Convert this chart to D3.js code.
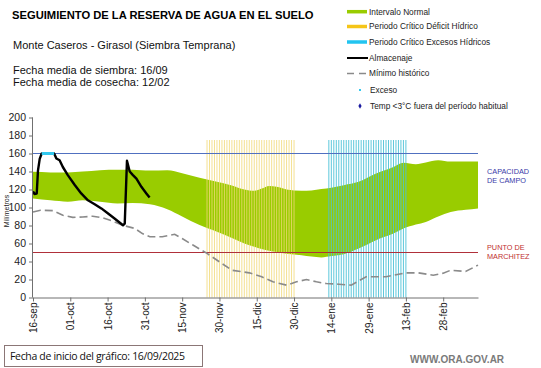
<!DOCTYPE html>
<html>
<head>
<meta charset="utf-8">
<script src="https://cdn.jsdelivr.net/npm/d3@7/dist/d3.min.js"></script>
<style>
  html, body { margin: 0; padding: 0; background: #fff; }
  svg { display: block; font-family: "Liberation Sans", Arial, sans-serif; }
</style>
</head>
<body>
<svg id="chart" width="541" height="368"></svg>
<script>
// ---------- DATA ----------
const tickDays = [0, 15, 30, 45, 60, 75, 90, 105, 120, 135, 150, 165];
const tickLabels = ["16-sep","01-oct","16-oct","31-oct","15-nov","30-nov","15-dic","30-dic","14-ene","29-ene","13-feb","28-feb"];
const yTicks = [0, 20, 40, 60, 80, 100, 120, 140, 160, 180, 200];

// Intervalo normal (upper / lower) by day since 16-sep
const bandDays  = [0, 7, 14, 20, 27, 34, 40, 47, 54, 60, 67, 74, 80, 85, 89, 92, 95, 98, 102, 108, 112, 116, 120, 125, 131, 138, 145, 149, 154, 158, 163, 168, 174, 179];
const bandUpper = [139.6, 139, 139, 140, 141.5, 142, 142, 141, 141.4, 138, 133, 128.5, 124.5, 120, 118.5, 121, 124, 123, 120, 118.5, 119, 120.5, 122, 124.8, 128.5, 137.8, 145, 149.6, 148, 150, 152.5, 151, 151, 151];
const bandLower = [110, 108, 106.5, 108, 106.5, 104.5, 105, 103.5, 98, 90, 80.5, 73, 66, 60, 56.5, 54, 52, 50.5, 48.5, 47, 45.5, 44.5, 46, 48, 54.4, 63.7, 71, 76.6, 81, 84, 90, 95, 97.5, 99];

// Mínimo histórico
const minDays = [0, 3, 8, 12, 16, 20, 24, 28, 32, 36, 41, 44, 47, 52, 57, 60, 64.5, 70, 75, 80, 87, 92, 96.5, 102, 106, 110, 114, 118, 123, 128, 134, 142, 150, 155, 161, 165, 168, 174, 179];
const minVals = [95, 97, 96.5, 91.4, 89, 89.5, 90.3, 88.5, 85, 80.3, 76.7, 71, 67.5, 67.5, 70.3, 65.5, 58, 49, 39.6, 30.3, 27.4, 23, 17.4, 13.7, 17.4, 20, 17.4, 15.5, 14.8, 13.7, 23, 23, 27.4, 27.4, 24.8, 27, 30.3, 28.9, 36];

// Almacenaje
const almDays = [0, 0.6, 1.5, 2, 2.7, 3.5, 8.5, 9.4, 10.7, 12, 14, 16.8, 19.4, 22.1, 24.8, 27.5, 30.2, 32.8, 36.2, 36.9, 37.8, 38.9, 40.2, 41.6, 43.6, 45.6, 46.9];
const almVals = [118, 115, 115.5, 141, 154, 160, 160, 154.5, 152.5, 145, 136, 125, 115.6, 108, 103.7, 99, 93.3, 87.8, 80.3, 82, 152, 140, 136, 132, 123, 115.6, 111];

// Exceso
const excDays = [3.5, 8.5];
const excVals = [160, 160];

// Periods (critical) and reference levels
const deficitPeriod = [70, 105];
const excesoPeriod = [119, 150];
const periodTop = 175;
const capacidadCampo = 160;
const puntoMarchitez = 50;

const legendLabels = ["Intervalo Normal", "Periodo Crítico Déficit Hídrico", "Periodo Crítico Excesos Hídricos", "Almacenaje", "Mínimo histórico", "Exceso", "Temp <3°C fuera del período habitual"];

// ---------- DRAW ----------
const svg = d3.select("#chart");
const x = d3.scaleLinear().domain([0, 179]).range([33, 478]);
const y = d3.scaleLinear().domain([0, 200]).range([297.5, 117.5]);

const C = {
  green: "#99cc00", yellow: "#f2da78", cyan: "#4cc2d8", blue: "#5070c0",
  red: "#b0303a", gray: "#8a8a8a", axis: "#707070"
};

// green band
const band = bandDays.map((d, i) => ({d, u: bandUpper[i], l: bandLower[i]}));
svg.append("path").datum(band)
  .attr("fill", C.green)
  .attr("d", d3.area().x(p => x(p.d)).y0(p => y(p.l)).y1(p => y(p.u)).curve(d3.curveMonotoneX));

// vertical period lines
function periodLines(period, color, op) {
  const ds = d3.range(period[0], period[1] + 1);
  svg.append("g").selectAll("line").data(ds).join("line")
    .attr("x1", d => x(d)).attr("x2", d => x(d))
    .attr("y1", y(0)).attr("y2", y(periodTop))
    .attr("stroke", color).attr("stroke-width", 1).attr("opacity", op);
}
periodLines(deficitPeriod, C.yellow, 0.8);
periodLines(excesoPeriod, C.cyan, 0.9);

// reference lines
svg.append("line").attr("x1", x(0)).attr("x2", x(179))
  .attr("y1", y(capacidadCampo)).attr("y2", y(capacidadCampo))
  .attr("stroke", C.blue).attr("stroke-width", 1);
svg.append("line").attr("x1", x(0)).attr("x2", x(179))
  .attr("y1", y(puntoMarchitez)).attr("y2", y(puntoMarchitez))
  .attr("stroke", C.red).attr("stroke-width", 1);

// minimum historic
svg.append("path").datum(minDays.map((d, i) => [d, minVals[i]]))
  .attr("fill", "none").attr("stroke", C.gray).attr("stroke-width", 1.6)
  .attr("stroke-dasharray", "8,4")
  .attr("d", d3.line().x(p => x(p[0])).y(p => y(p[1])));

// almacenaje
svg.append("path").datum(almDays.map((d, i) => [d, almVals[i]]))
  .attr("fill", "none").attr("stroke", "#000").attr("stroke-width", 2.4)
  .attr("stroke-linejoin", "round")
  .attr("d", d3.line().x(p => x(p[0])).y(p => y(p[1])));

// exceso
svg.append("path").datum(excDays.map((d, i) => [d, excVals[i]]))
  .attr("fill", "none").attr("stroke", "#33c8ee").attr("stroke-width", 3)
  .attr("d", d3.line().x(p => x(p[0])).y(p => y(p[1])));

// axes
const yAxis = svg.append("g").attr("transform", `translate(${x(0)},0)`)
  .call(d3.axisLeft(y).tickValues(yTicks).tickSize(4).tickPadding(3));
const xAxis = svg.append("g").attr("transform", `translate(0,${y(0)})`)
  .call(d3.axisBottom(x).tickValues(tickDays).tickFormat((d, i) => tickLabels[i]).tickSize(4).tickSizeOuter(0));
[yAxis, xAxis].forEach(g => {
  g.select(".domain").attr("stroke", C.axis);
  g.selectAll(".tick line").attr("stroke", C.axis);
});
yAxis.select(".domain").attr("d", `M-0.5,${y(200)}V${y(0)}`);
yAxis.selectAll("text").attr("font-size", 10.5).attr("fill", "#222").attr("font-family", "Liberation Sans, Arial");
xAxis.selectAll("text")
  .attr("font-size", 10).attr("fill", "#222").attr("font-family", "Liberation Sans, Arial")
  .attr("text-anchor", "end")
  .attr("transform", "rotate(-90)")
  .attr("x", -5).attr("y", 0).attr("dy", "0.35em");

// y label
svg.append("text").attr("transform", `translate(9,${211}) rotate(-90)`)
  .attr("text-anchor", "middle").attr("font-size", 7).attr("fill", "#222").text("Milímetros");

// right labels
const rl = [["CAPACIDAD", 173.5, "#3a3aa8"], ["DE  CAMPO", 182.5, "#3a3aa8"], ["PUNTO  DE", 249.5, "#c0302f"], ["MARCHITEZ", 258.5, "#c0302f"]];
svg.append("g").selectAll("text").data(rl).join("text")
  .attr("x", 487).attr("y", d => d[1]).attr("font-size", 7.3).attr("fill", d => d[2]).text(d => d[0]);

// titles
svg.append("text").attr("x", 12).attr("y", 19).attr("font-size", 11.2).attr("font-weight", "bold").attr("fill", "#000")
  .text("SEGUIMIENTO DE LA RESERVA DE AGUA  EN EL SUELO");
svg.append("text").attr("x", 13).attr("y", 48.5).attr("font-size", 11).attr("fill", "#111")
  .text("Monte Caseros - Girasol (Siembra Temprana)");
svg.append("text").attr("x", 13).attr("y", 74).attr("font-size", 11).attr("fill", "#111")
  .text("Fecha media de siembra: 16/09");
svg.append("text").attr("x", 13).attr("y", 86).attr("font-size", 11).attr("fill", "#111")
  .text("Fecha media de cosecha: 12/02");

// legend
const lg = svg.append("g");
const rowsY = [11.7, 26.5, 42, 58, 73.5, 90, 106];
const sw0 = 347, sw1 = 367;
lg.append("line").attr("x1", sw0).attr("x2", sw1).attr("y1", rowsY[0]).attr("y2", rowsY[0]).attr("stroke", C.green).attr("stroke-width", 3.5);
lg.append("line").attr("x1", sw0).attr("x2", sw1).attr("y1", rowsY[1]).attr("y2", rowsY[1]).attr("stroke", "#f5c518").attr("stroke-width", 3.5);
lg.append("line").attr("x1", sw0).attr("x2", sw1).attr("y1", rowsY[2]).attr("y2", rowsY[2]).attr("stroke", "#22c4f0").attr("stroke-width", 3.5);
lg.append("line").attr("x1", sw0).attr("x2", 368).attr("y1", rowsY[3]).attr("y2", rowsY[3]).attr("stroke", "#000").attr("stroke-width", 2);
lg.append("line").attr("x1", sw0).attr("x2", 368).attr("y1", rowsY[4]).attr("y2", rowsY[4]).attr("stroke", C.gray).attr("stroke-width", 1.6).attr("stroke-dasharray", "7,5");
lg.append("rect").attr("x", 359).attr("y", rowsY[5] - 1).attr("width", 2).attr("height", 2).attr("fill", "#33c8ee");
lg.append("path").attr("d", d3.symbol(d3.symbolDiamond, 9)()).attr("transform", `translate(360,${rowsY[6]})`).attr("fill", "#1a1aa0");
lg.selectAll("text").data(legendLabels).join("text")
  .attr("x", (d, i) => i >= 5 ? 370 : 369)
  .attr("y", (d, i) => rowsY[i]).attr("dy", "0.35em")
  .attr("font-size", 8.3).attr("fill", "#222").text(d => d);

// footer
svg.append("rect").attr("x", 4.5).attr("y", 345.5).attr("width", 198).attr("height", 21)
  .attr("fill", "#fff").attr("stroke", "#8b7676").attr("stroke-width", 1);
svg.append("text").attr("x", 10).attr("y", 360).attr("font-size", 10.5).attr("fill", "#111")
  .attr("font-family", "Open Sans, sans-serif").attr("textLength", 175)
  .text("Fecha de inicio del gráfico:  16/09/2025");
svg.append("text").attr("x", 410).attr("y", 363).attr("font-size", 10).attr("font-weight", "bold").attr("fill", "#7a7a7a")
  .text("WWW.ORA.GOV.AR");
</script>
</body>
</html>
